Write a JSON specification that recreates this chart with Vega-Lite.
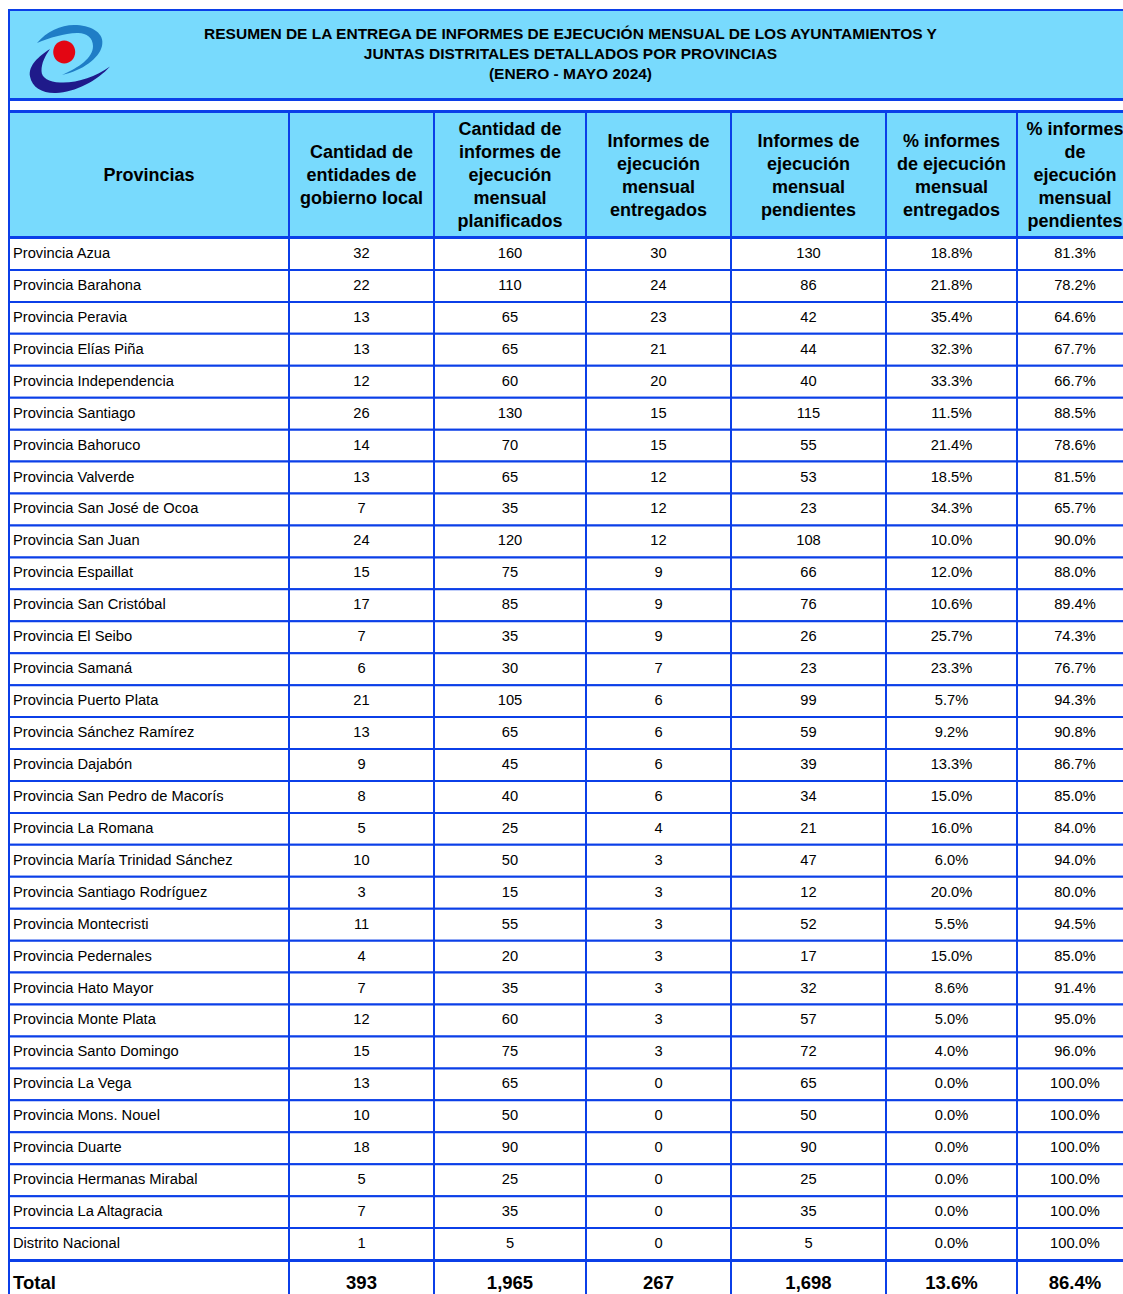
{
"$schema": "https://vega.github.io/schema/vega-lite/v6.json",
"background": "white",
"padding": {"left": 8, "top": 9, "right": 0, "bottom": 0},
"spacing": -4,
"bounds": "full",
"config": {
  "view": {"stroke": "#0B3FE8", "strokeWidth": 2},
  "text": {"font": "Liberation Sans", "color": "#000000"},
  "concat": {"spacing": 0}
},
"datasets": {
  "logo": [{"part": "logo", "piece": "navy"}, {"part": "logo", "piece": "blue"}, {"part": "logo", "piece": "red"}],
  "titleLines": [
    {"part": "title", "line": 1, "t": "RESUMEN DE LA ENTREGA DE INFORMES DE EJECUCIÓN MENSUAL DE LOS AYUNTAMIENTOS Y"},
    {"part": "title", "line": 2, "t": "JUNTAS DISTRITALES DETALLADOS POR PROVINCIAS"},
    {"part": "title", "line": 3, "t": "(ENERO - MAYO 2024)"}
  ],
  "header": [
    {"col": 1, "t": "Provincias"},
    {"col": 2, "t": "Cantidad de\nentidades de\ngobierno local"},
    {"col": 3, "t": "Cantidad de\ninformes de\nejecución\nmensual\nplanificados"},
    {"col": 4, "t": "Informes de\nejecución\nmensual\nentregados"},
    {"col": 5, "t": "Informes de\nejecución\nmensual\npendientes"},
    {"col": 6, "t": "% informes\nde ejecución\nmensual\nentregados"},
    {"col": 7, "t": "% informes\nde\nejecución\nmensual\npendientes"}
  ],
  "rows": [
    {"p": "Provincia Azua", "c": 32, "pl": 160, "e": 30, "pe": 130, "pctE": 0.188, "pctP": 0.813},
    {"p": "Provincia Barahona", "c": 22, "pl": 110, "e": 24, "pe": 86, "pctE": 0.218, "pctP": 0.782},
    {"p": "Provincia Peravia", "c": 13, "pl": 65, "e": 23, "pe": 42, "pctE": 0.354, "pctP": 0.646},
    {"p": "Provincia Elías Piña", "c": 13, "pl": 65, "e": 21, "pe": 44, "pctE": 0.323, "pctP": 0.677},
    {"p": "Provincia Independencia", "c": 12, "pl": 60, "e": 20, "pe": 40, "pctE": 0.333, "pctP": 0.667},
    {"p": "Provincia Santiago", "c": 26, "pl": 130, "e": 15, "pe": 115, "pctE": 0.115, "pctP": 0.885},
    {"p": "Provincia Bahoruco", "c": 14, "pl": 70, "e": 15, "pe": 55, "pctE": 0.214, "pctP": 0.786},
    {"p": "Provincia Valverde", "c": 13, "pl": 65, "e": 12, "pe": 53, "pctE": 0.185, "pctP": 0.815},
    {"p": "Provincia San José de Ocoa", "c": 7, "pl": 35, "e": 12, "pe": 23, "pctE": 0.343, "pctP": 0.657},
    {"p": "Provincia San Juan", "c": 24, "pl": 120, "e": 12, "pe": 108, "pctE": 0.1, "pctP": 0.9},
    {"p": "Provincia Espaillat", "c": 15, "pl": 75, "e": 9, "pe": 66, "pctE": 0.12, "pctP": 0.88},
    {"p": "Provincia San Cristóbal", "c": 17, "pl": 85, "e": 9, "pe": 76, "pctE": 0.106, "pctP": 0.894},
    {"p": "Provincia El Seibo", "c": 7, "pl": 35, "e": 9, "pe": 26, "pctE": 0.257, "pctP": 0.743},
    {"p": "Provincia Samaná", "c": 6, "pl": 30, "e": 7, "pe": 23, "pctE": 0.233, "pctP": 0.767},
    {"p": "Provincia Puerto Plata", "c": 21, "pl": 105, "e": 6, "pe": 99, "pctE": 0.057, "pctP": 0.943},
    {"p": "Provincia Sánchez Ramírez", "c": 13, "pl": 65, "e": 6, "pe": 59, "pctE": 0.092, "pctP": 0.908},
    {"p": "Provincia Dajabón", "c": 9, "pl": 45, "e": 6, "pe": 39, "pctE": 0.133, "pctP": 0.867},
    {"p": "Provincia San Pedro de Macorís", "c": 8, "pl": 40, "e": 6, "pe": 34, "pctE": 0.15, "pctP": 0.85},
    {"p": "Provincia La Romana", "c": 5, "pl": 25, "e": 4, "pe": 21, "pctE": 0.16, "pctP": 0.84},
    {"p": "Provincia María Trinidad Sánchez", "c": 10, "pl": 50, "e": 3, "pe": 47, "pctE": 0.06, "pctP": 0.94},
    {"p": "Provincia Santiago Rodríguez", "c": 3, "pl": 15, "e": 3, "pe": 12, "pctE": 0.2, "pctP": 0.8},
    {"p": "Provincia Montecristi", "c": 11, "pl": 55, "e": 3, "pe": 52, "pctE": 0.055, "pctP": 0.945},
    {"p": "Provincia Pedernales", "c": 4, "pl": 20, "e": 3, "pe": 17, "pctE": 0.15, "pctP": 0.85},
    {"p": "Provincia Hato Mayor", "c": 7, "pl": 35, "e": 3, "pe": 32, "pctE": 0.086, "pctP": 0.914},
    {"p": "Provincia Monte Plata", "c": 12, "pl": 60, "e": 3, "pe": 57, "pctE": 0.05, "pctP": 0.95},
    {"p": "Provincia Santo Domingo", "c": 15, "pl": 75, "e": 3, "pe": 72, "pctE": 0.04, "pctP": 0.96},
    {"p": "Provincia La Vega", "c": 13, "pl": 65, "e": 0, "pe": 65, "pctE": 0, "pctP": 1},
    {"p": "Provincia Mons. Nouel", "c": 10, "pl": 50, "e": 0, "pe": 50, "pctE": 0, "pctP": 1},
    {"p": "Provincia Duarte", "c": 18, "pl": 90, "e": 0, "pe": 90, "pctE": 0, "pctP": 1},
    {"p": "Provincia Hermanas Mirabal", "c": 5, "pl": 25, "e": 0, "pe": 25, "pctE": 0, "pctP": 1},
    {"p": "Provincia La Altagracia", "c": 7, "pl": 35, "e": 0, "pe": 35, "pctE": 0, "pctP": 1},
    {"p": "Distrito Nacional", "c": 1, "pl": 5, "e": 0, "pe": 5, "pctE": 0, "pctP": 1}
  ],
  "total": [{"p": "Total", "c": 393, "pl": 1965, "e": 267, "pe": 1698, "pctE": 0.136, "pctP": 0.864}]
},
"vconcat": [
  {
    "width": 1124, "height": 89,
    "view": {"fill": "#78DAFD", "stroke": "#0B3FE8", "strokeWidth": 2},
    "layer": [
      {
        "data": {"name": "logo"},
        "mark": {"type": "point", "filled": true, "size": 10000, "opacity": 1, "strokeWidth": 0},
        "encoding": {
          "x": {"field": "part", "type": "nominal", "axis": null, "scale": {"type": "point", "domain": ["logo", "title"], "range": [61, 561.5], "padding": 0}},
          "shape": {"field": "piece", "type": "nominal", "legend": null, "scale": {"domain": ["navy", "blue", "red"], "range": [
            "M -0.40 -0.11 C -0.62 0.03 -0.84 0.22 -0.80 0.44 C -0.76 0.66 -0.55 0.78 -0.28 0.77 C 0.10 0.76 0.55 0.52 0.80 0.24 C 0.50 0.45 0.12 0.58 -0.20 0.56 C -0.42 0.55 -0.57 0.47 -0.57 0.33 C -0.57 0.17 -0.50 0.03 -0.40 -0.11 Z",
            "M -0.66 -0.23 C -0.45 -0.48 -0.15 -0.61 0.14 -0.59 C 0.45 -0.57 0.70 -0.42 0.64 -0.17 C 0.58 0.08 0.25 0.32 -0.16 0.41 C 0.18 0.26 0.46 0.07 0.46 -0.17 C 0.46 -0.34 0.32 -0.44 0.14 -0.43 C -0.12 -0.42 -0.40 -0.34 -0.66 -0.23 Z",
            "M 0.104 -0.05 C 0.104 0.077 0.005 0.18 -0.116 0.18 C -0.237 0.18 -0.336 0.077 -0.336 -0.05 C -0.336 -0.177 -0.237 -0.28 -0.116 -0.28 C 0.005 -0.28 0.104 -0.177 0.104 -0.05 Z"
          ]}},
          "color": {"field": "piece", "type": "nominal", "legend": null, "scale": {"domain": ["navy", "blue", "red"], "range": ["#1F1A8A", "#1F7DC6", "#E30613"]}}
        }
      },
      {
        "data": {"name": "titleLines"},
        "mark": {"type": "text", "fontSize": 15.5, "fontWeight": "bold"},
        "encoding": {
          "x": {"field": "part", "type": "nominal", "axis": null},
          "y": {"field": "line", "type": "ordinal", "axis": null, "scale": {"type": "point", "range": [24, 64], "padding": 0}},
          "text": {"field": "t", "type": "nominal"}
        }
      }
    ]
  },
  {
    "width": 1124, "height": 11,
    "view": {"fill": "white", "stroke": "#0B3FE8", "strokeWidth": 2},
    "data": {"values": [{}]},
    "mark": {"type": "text"},
    "encoding": {"text": {"value": ""}}
  },
  {
    "spacing": 0, "bounds": "flush",
    "hconcat": [
      {"width": 280, "height": 125, "view": {"fill": "#78DAFD", "stroke": "#0B3FE8", "strokeWidth": 2}, "data": {"name": "header"}, "transform": [{"filter": "datum.col == 1"}], "mark": {"type": "text", "fontSize": 18, "fontWeight": "bold", "lineBreak": "\n", "lineHeight": 23, "dy": 1}, "encoding": {"text": {"field": "t", "type": "nominal"}}},
      {"width": 145, "height": 125, "view": {"fill": "#78DAFD", "stroke": "#0B3FE8", "strokeWidth": 2}, "data": {"name": "header"}, "transform": [{"filter": "datum.col == 2"}], "mark": {"type": "text", "fontSize": 18, "fontWeight": "bold", "lineBreak": "\n", "lineHeight": 23, "dy": -21.5}, "encoding": {"text": {"field": "t", "type": "nominal"}}},
      {"width": 152, "height": 125, "view": {"fill": "#78DAFD", "stroke": "#0B3FE8", "strokeWidth": 2}, "data": {"name": "header"}, "transform": [{"filter": "datum.col == 3"}], "mark": {"type": "text", "fontSize": 18, "fontWeight": "bold", "lineBreak": "\n", "lineHeight": 23, "dy": -44.5}, "encoding": {"text": {"field": "t", "type": "nominal"}}},
      {"width": 145, "height": 125, "view": {"fill": "#78DAFD", "stroke": "#0B3FE8", "strokeWidth": 2}, "data": {"name": "header"}, "transform": [{"filter": "datum.col == 4"}], "mark": {"type": "text", "fontSize": 18, "fontWeight": "bold", "lineBreak": "\n", "lineHeight": 23, "dy": -33}, "encoding": {"text": {"field": "t", "type": "nominal"}}},
      {"width": 155, "height": 125, "view": {"fill": "#78DAFD", "stroke": "#0B3FE8", "strokeWidth": 2}, "data": {"name": "header"}, "transform": [{"filter": "datum.col == 5"}], "mark": {"type": "text", "fontSize": 18, "fontWeight": "bold", "lineBreak": "\n", "lineHeight": 23, "dy": -33}, "encoding": {"text": {"field": "t", "type": "nominal"}}},
      {"width": 131, "height": 125, "view": {"fill": "#78DAFD", "stroke": "#0B3FE8", "strokeWidth": 2}, "data": {"name": "header"}, "transform": [{"filter": "datum.col == 6"}], "mark": {"type": "text", "fontSize": 18, "fontWeight": "bold", "lineBreak": "\n", "lineHeight": 23, "dy": -33}, "encoding": {"text": {"field": "t", "type": "nominal"}}},
      {"width": 116, "height": 125, "view": {"fill": "#78DAFD", "stroke": "#0B3FE8", "strokeWidth": 2}, "data": {"name": "header"}, "transform": [{"filter": "datum.col == 7"}], "mark": {"type": "text", "fontSize": 18, "fontWeight": "bold", "lineBreak": "\n", "lineHeight": 23, "dy": -44.5}, "encoding": {"text": {"field": "t", "type": "nominal"}}}
    ]
  },
  {
    "spacing": 0, "bounds": "flush",
    "hconcat": [
      {"width": 280, "height": 1022, "data": {"name": "rows"},
       "encoding": {"y": {"field": "p", "type": "nominal", "sort": null, "axis": null, "scale": {"paddingInner": 0, "paddingOuter": 0}}},
       "layer": [
         {"mark": {"type": "rect", "fill": "white", "stroke": "#0B3FE8", "strokeWidth": 2, "clip": true}},
         {"mark": {"type": "text", "fontSize": 14.7, "align": "left"}, "encoding": {"x": {"value": 4}, "text": {"field": "p", "type": "nominal"}}}
       ]},
      {"width": 145, "height": 1022, "data": {"name": "rows"},
       "encoding": {"y": {"field": "p", "type": "nominal", "sort": null, "axis": null, "scale": {"paddingInner": 0, "paddingOuter": 0}}},
       "layer": [
         {"mark": {"type": "rect", "fill": "white", "stroke": "#0B3FE8", "strokeWidth": 2, "clip": true}},
         {"mark": {"type": "text", "fontSize": 14.7}, "encoding": {"text": {"field": "c", "type": "quantitative"}}}
       ]},
      {"width": 152, "height": 1022, "data": {"name": "rows"},
       "encoding": {"y": {"field": "p", "type": "nominal", "sort": null, "axis": null, "scale": {"paddingInner": 0, "paddingOuter": 0}}},
       "layer": [
         {"mark": {"type": "rect", "fill": "white", "stroke": "#0B3FE8", "strokeWidth": 2, "clip": true}},
         {"mark": {"type": "text", "fontSize": 14.7}, "encoding": {"text": {"field": "pl", "type": "quantitative"}}}
       ]},
      {"width": 145, "height": 1022, "data": {"name": "rows"},
       "encoding": {"y": {"field": "p", "type": "nominal", "sort": null, "axis": null, "scale": {"paddingInner": 0, "paddingOuter": 0}}},
       "layer": [
         {"mark": {"type": "rect", "fill": "white", "stroke": "#0B3FE8", "strokeWidth": 2, "clip": true}},
         {"mark": {"type": "text", "fontSize": 14.7}, "encoding": {"text": {"field": "e", "type": "quantitative"}}}
       ]},
      {"width": 155, "height": 1022, "data": {"name": "rows"},
       "encoding": {"y": {"field": "p", "type": "nominal", "sort": null, "axis": null, "scale": {"paddingInner": 0, "paddingOuter": 0}}},
       "layer": [
         {"mark": {"type": "rect", "fill": "white", "stroke": "#0B3FE8", "strokeWidth": 2, "clip": true}},
         {"mark": {"type": "text", "fontSize": 14.7}, "encoding": {"text": {"field": "pe", "type": "quantitative"}}}
       ]},
      {"width": 131, "height": 1022, "data": {"name": "rows"},
       "encoding": {"y": {"field": "p", "type": "nominal", "sort": null, "axis": null, "scale": {"paddingInner": 0, "paddingOuter": 0}}},
       "layer": [
         {"mark": {"type": "rect", "fill": "white", "stroke": "#0B3FE8", "strokeWidth": 2, "clip": true}},
         {"mark": {"type": "text", "fontSize": 14.7}, "encoding": {"text": {"field": "pctE", "type": "quantitative", "format": ".1%"}}}
       ]},
      {"width": 116, "height": 1022, "data": {"name": "rows"},
       "encoding": {"y": {"field": "p", "type": "nominal", "sort": null, "axis": null, "scale": {"paddingInner": 0, "paddingOuter": 0}}},
       "layer": [
         {"mark": {"type": "rect", "fill": "white", "stroke": "#0B3FE8", "strokeWidth": 2, "clip": true}},
         {"mark": {"type": "text", "fontSize": 14.7}, "encoding": {"text": {"field": "pctP", "type": "quantitative", "format": ".1%"}}}
       ]}
    ]
  },
  {
    "spacing": 0, "bounds": "flush",
    "hconcat": [
      {"width": 280, "height": 44, "view": {"fill": "white", "stroke": "#0B3FE8", "strokeWidth": 2}, "data": {"name": "total"}, "mark": {"type": "text", "fontSize": 18.5, "fontWeight": "bold", "align": "left"}, "encoding": {"x": {"value": 4}, "text": {"field": "p", "type": "nominal"}}},
      {"width": 145, "height": 44, "view": {"fill": "white", "stroke": "#0B3FE8", "strokeWidth": 2}, "data": {"name": "total"}, "mark": {"type": "text", "fontSize": 18.5, "fontWeight": "bold"}, "encoding": {"text": {"field": "c", "type": "quantitative", "format": ","}}},
      {"width": 152, "height": 44, "view": {"fill": "white", "stroke": "#0B3FE8", "strokeWidth": 2}, "data": {"name": "total"}, "mark": {"type": "text", "fontSize": 18.5, "fontWeight": "bold"}, "encoding": {"text": {"field": "pl", "type": "quantitative", "format": ","}}},
      {"width": 145, "height": 44, "view": {"fill": "white", "stroke": "#0B3FE8", "strokeWidth": 2}, "data": {"name": "total"}, "mark": {"type": "text", "fontSize": 18.5, "fontWeight": "bold"}, "encoding": {"text": {"field": "e", "type": "quantitative", "format": ","}}},
      {"width": 155, "height": 44, "view": {"fill": "white", "stroke": "#0B3FE8", "strokeWidth": 2}, "data": {"name": "total"}, "mark": {"type": "text", "fontSize": 18.5, "fontWeight": "bold"}, "encoding": {"text": {"field": "pe", "type": "quantitative", "format": ","}}},
      {"width": 131, "height": 44, "view": {"fill": "white", "stroke": "#0B3FE8", "strokeWidth": 2}, "data": {"name": "total"}, "mark": {"type": "text", "fontSize": 18.5, "fontWeight": "bold"}, "encoding": {"text": {"field": "pctE", "type": "quantitative", "format": ".1%"}}},
      {"width": 116, "height": 44, "view": {"fill": "white", "stroke": "#0B3FE8", "strokeWidth": 2}, "data": {"name": "total"}, "mark": {"type": "text", "fontSize": 18.5, "fontWeight": "bold"}, "encoding": {"text": {"field": "pctP", "type": "quantitative", "format": ".1%"}}}
    ]
  }
]
}
